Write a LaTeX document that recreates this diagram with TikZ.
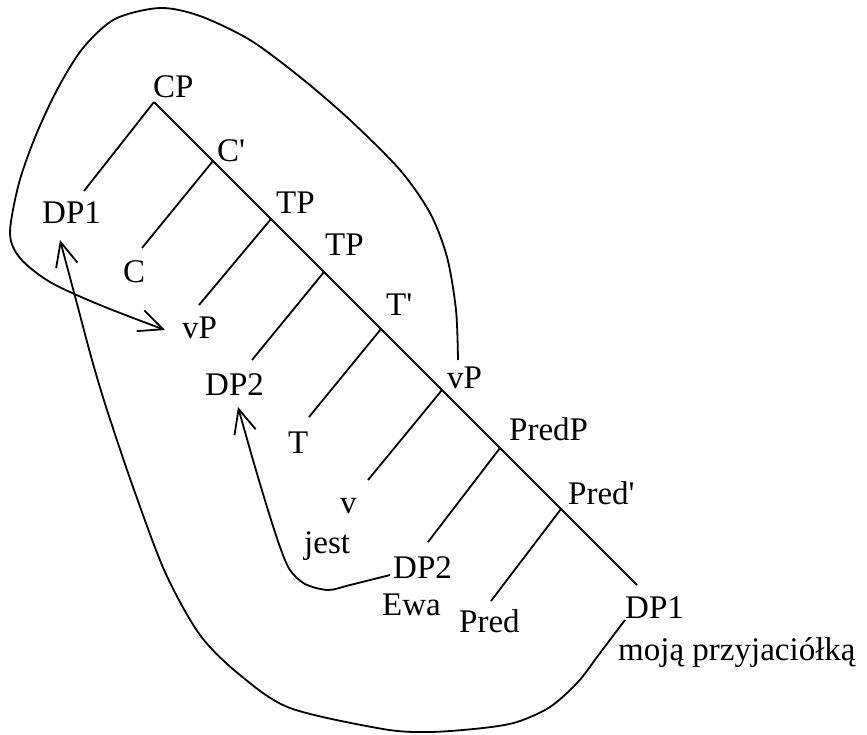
\documentclass[tikz,border=0pt]{standalone}
\usepackage{fontspec}
\setmainfont{Liberation Serif}[Ligatures=TeXOff]
\usetikzlibrary{arrows.meta}
\begin{document}
\begin{tikzpicture}[x=1pt,y=-1pt,
  lbl/.style={anchor=base west, inner sep=0pt, font=\fontsize{33}{39}\selectfont},
  edge/.style={line width=1.8pt},
  mv/.style={line width=1.8pt, -{Straight Barb[length=24pt,width=22pt]}}
]
\useasboundingbox (0,0) rectangle (867,734);

% labels
\node[lbl] (cp)    at (153,97)  {CP};
\node[lbl] (cbar)  at (217,161) {C'};
\node[lbl] (tp1)   at (276,213) {TP};
\node[lbl] (tp2)   at (325,255) {TP};
\node[lbl] (tbar)  at (386,315) {T'};
\node[lbl] (vpb)   at (447,388) {vP};
\node[lbl] (predp) at (509,440) {PredP};
\node[lbl] (predb) at (568,504) {Pred'};
\node[lbl] (dp1b)  at (625,618) {DP1};
\node[lbl] (moja)  at (618,660) {moją przyjaciółką};
\node[lbl] (pred)  at (459,632) {Pred};
\node[lbl] (ewa)   at (382,615) {Ewa};
\node[lbl] (dp2b)  at (393,578) {DP2};
\node[lbl] (jest)  at (304,553) {jest};
\node[lbl] (v)     at (340,513) {v};
\node[lbl] (t)     at (288,453) {T};
\node[lbl] (dp2a)  at (205,395) {DP2};
\node[lbl] (vpa)   at (182,338) {vP};
\node[lbl] (c)     at (123,282) {C};
\node[lbl] (dp1a)  at (42,223)  {DP1};

% junctions on the spine
\coordinate (jcp)  at (154,102);
\coordinate (jcb)  at (213,161);
\coordinate (jtp1) at (271,219);
\coordinate (jtp2) at (324,272);
\coordinate (jtb)  at (381,329);
\coordinate (jvp)  at (442,390);
\coordinate (jpp)  at (500,448);
\coordinate (jpb)  at (561,509);
\coordinate (jend) at (637,585);
% branch ends
\coordinate (e1) at (84,191);
\coordinate (e2) at (142,248);
\coordinate (e3) at (199,305);
\coordinate (e4) at (252,360);
\coordinate (e5) at (309,417);
\coordinate (e6) at (368,480);
\coordinate (e7) at (428,542);
\coordinate (e8) at (491,601);

\draw[edge] (jcp) -- (jcb) -- (jtp1) -- (jtp2) -- (jtb) -- (jvp) -- (jpp) -- (jpb) -- (jend);
\draw[edge] (jcp) -- (e1);
\draw[edge] (jcb) -- (e2);
\draw[edge] (jtp1) -- (e3);
\draw[edge] (jtp2) -- (e4);
\draw[edge] (jtb) -- (e5);
\draw[edge] (jvp) -- (e6);
\draw[edge] (jpp) -- (e7);
\draw[edge] (jpb) -- (e8);

% movement curves
\coordinate (vpstart) at (458,360);
\coordinate (vptip) at (165,330);
\draw[mv] plot[smooth] coordinates {(vpstart) (456,310) (447,257) (430,213) (400,170) (350,120) (300,77) (250,40) (200,16) (160,8) (115,19) (83,48) (58,88) (36,135) (19,183) (10,233) (20,258) (50,282) (100,305) (vptip)};

\coordinate (dp2start) at (390,575);
\coordinate (dp2tip) at (238,407);
\draw[mv] plot[smooth] coordinates {(dp2start) (350,585) (328,590) (305,584) (290,570) (280,547) (267,507) (253,460) (dp2tip)};

\coordinate (dp1start) at (625,620);
\coordinate (dp1tip) at (60,240);
\draw[mv] plot[smooth] coordinates {(dp1start) (600,653) (578,682) (550,707) (517,722) (483,728) (430,732) (383,729) (290,708) (240,675) (200,635) (165,572) (133,487) (107,410) (92,360) (76,300) (dp1tip)};
\end{tikzpicture}
\end{document}
